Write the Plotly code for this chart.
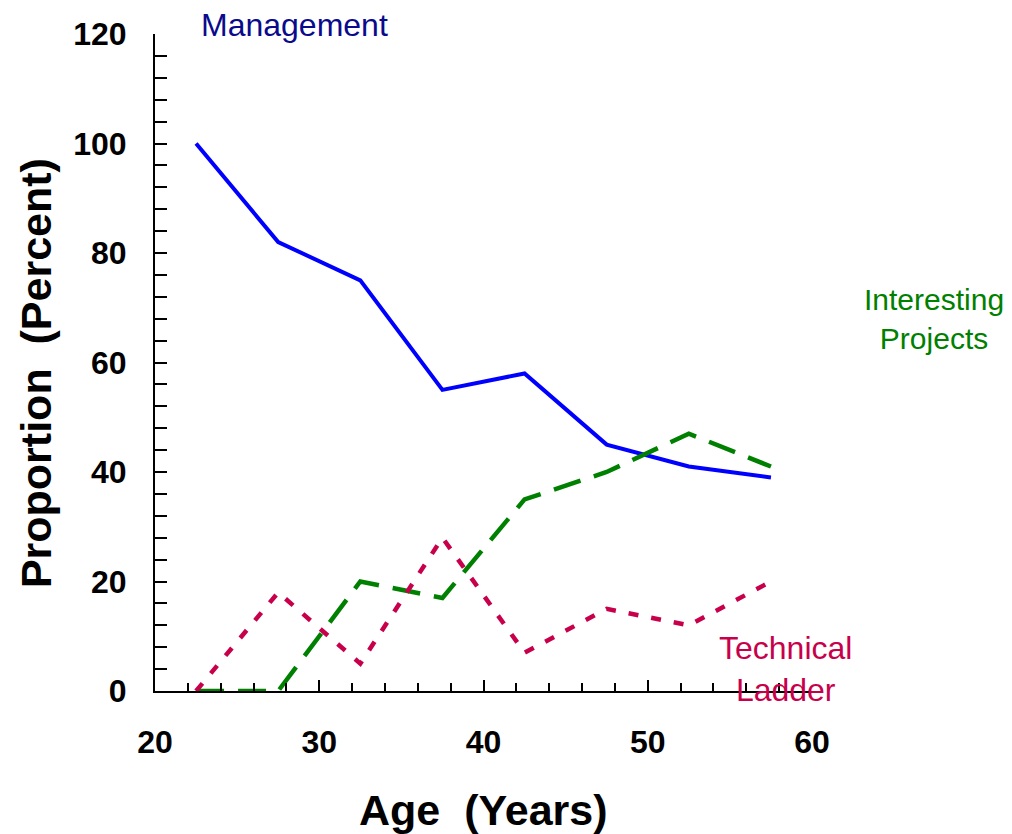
import plotly.graph_objects as go

# ages are bin midpoints (5-year bins)
AGE = [22.5, 27.5, 32.5, 37.5, 42.5, 47.5, 52.5, 57.5]
MANAGEMENT = [100, 82, 75, 55, 58, 45, 41, 39]
INTERESTING = [0, 0, 20, 17, 35, 40, 47, 41]
TECH_LADDER = [0, 18, 5, 28, 7, 15, 12, 20]

Y_TICKS = [0, 20, 40, 60, 80, 100, 120]
X_TICKS = [20, 30, 40, 50, 60]

BLUE = "#0000FF"
NAVY = "#0A0A8C"
GREEN = "#008000"
CRIMSON = "#C8004B"

FONT = "Liberation Sans, Arial, sans-serif"

fig = go.Figure()
fig.add_trace(go.Scatter(
    x=AGE, y=MANAGEMENT, mode="lines", name="Management",
    line=dict(color=BLUE, width=4), cliponaxis=False,
))
fig.add_trace(go.Scatter(
    x=AGE, y=INTERESTING, mode="lines", name="Interesting Projects",
    line=dict(color=GREEN, width=4.5, dash="28px,14px"), cliponaxis=False,
))
fig.add_trace(go.Scatter(
    x=AGE, y=TECH_LADDER, mode="lines", name="Technical Ladder",
    line=dict(color=CRIMSON, width=4.5, dash="10px,13px"), cliponaxis=False,
))

tick_font = dict(family=FONT, size=32, color="black", weight="bold")

fig.update_xaxes(
    range=[20, 60], tickvals=X_TICKS, showline=True, linecolor="black", linewidth=2,
    ticks="inside", ticklen=11, tickwidth=2, tickcolor="black",
    minor=dict(ticks="inside", dtick=2, ticklen=8, tickwidth=1.5, tickcolor="black"),
    showgrid=False, zeroline=False, tickfont=tick_font, ticklabelstandoff=22,
    automargin=False,
)
fig.update_yaxes(
    range=[0, 120], tickvals=Y_TICKS, showline=True, linecolor="black", linewidth=2,
    ticks="inside", ticklen=12, tickwidth=2, tickcolor="black",
    minor=dict(ticks="inside", dtick=4, ticklen=12, tickwidth=1.5, tickcolor="black"),
    showgrid=False, zeroline=False, tickfont=tick_font, ticklabelstandoff=20,
    automargin=False,
)

label_font = dict(family=FONT, size=32)
title_font = dict(family=FONT, size=43, color="black", weight="bold")

fig.update_layout(
    width=1012, height=834,
    margin=dict(l=147, r=208, t=26, b=151),
    paper_bgcolor="white", plot_bgcolor="white",
    showlegend=False,
    annotations=[
        dict(text="Management", x=0.213, y=1.0137, xref="paper", yref="paper", showarrow=False,
             xanchor="center", yanchor="middle", font=dict(label_font, color=NAVY)),
        dict(text="Interesting<br>Projects", x=1.185, y=0.566, xref="paper", yref="paper",
             xanchor="center", yanchor="middle", showarrow=False,
             font=dict(label_font, size=30, color=GREEN)),
        dict(text="Technical<br>Ladder", x=0.959, y=0.0335, xref="paper", yref="paper",
             xanchor="center", yanchor="middle", showarrow=False,
             font=dict(label_font, color=CRIMSON)),
        dict(text="Age \u00a0(Years)", x=0.5, y=-0.181, xref="paper", yref="paper",
             showarrow=False, font=title_font, xanchor="center", yanchor="middle"),
        dict(text="Proportion \u00a0(Percent)", x=-0.181, y=0.484, xref="paper", yref="paper",
             showarrow=False, font=title_font, textangle=-90, xanchor="center", yanchor="middle"),
    ],
)

fig.write_html("out.html")
